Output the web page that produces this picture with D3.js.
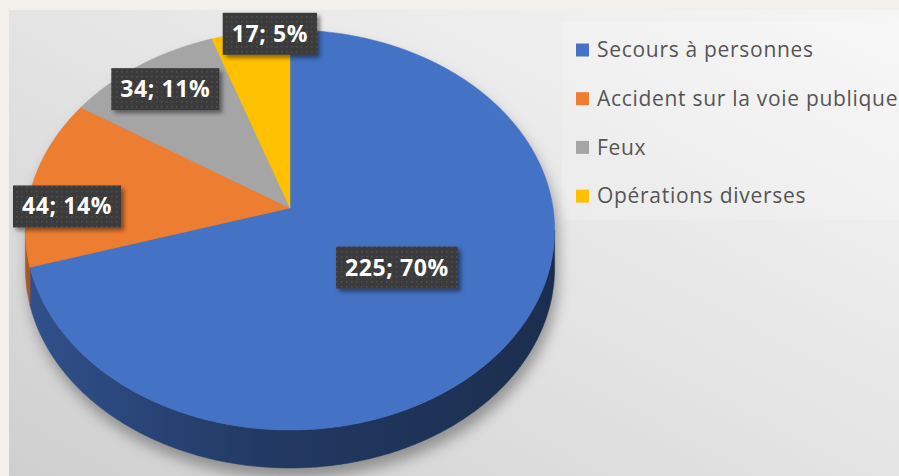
<!DOCTYPE html>
<html><head><meta charset="utf-8">
<script src="https://cdn.jsdelivr.net/npm/d3@7"></script>
<style>html,body{margin:0;padding:0;background:#f3f0eb;} svg{display:block;}</style>
</head><body>
<svg id="chart" width="899" height="476"></svg>
<script>
// ---- data ----
const categories = ["Secours à personnes", "Accident sur la voie publique", "Feux", "Opérations diverses"];
const values = [225, 44, 34, 17];
const colors = ["#4472c4", "#ed7d31", "#a5a5a5", "#ffc000"];

// ---- layout ----
const W = 899, H = 476;
const cx = 290, cy = 208, Rx = 263, Ry = 197.6, persp = 0.11, depth = 38;
// label anchor: [angle shift (deg), radius fraction]
const labelLayout = [[0, 0.49], [-7.4, 0.95], [0, 0.82], [4.6, 0.98]];

const svg = d3.select("#chart");
const defs = svg.append("defs");

// background gradient
const bg = defs.append("linearGradient").attr("id", "bg").attr("x1", 1).attr("y1", 0).attr("x2", 0).attr("y2", 1);
bg.append("stop").attr("offset", 0).attr("stop-color", "#f6f6f6");
bg.append("stop").attr("offset", 0.5).attr("stop-color", "#e4e4e4");
bg.append("stop").attr("offset", 1).attr("stop-color", "#cfcfcf");

// blur for shadow
const blur = defs.append("filter").attr("id", "blur").attr("x", "-20%").attr("y", "-20%").attr("width", "140%").attr("height", "140%");
blur.append("feGaussianBlur").attr("stdDeviation", 7);

const ds = defs.append("filter").attr("id", "ds").attr("x", "-20%").attr("y", "-30%").attr("width", "150%").attr("height", "170%");
ds.append("feDropShadow").attr("dx", 3).attr("dy", 3).attr("stdDeviation", 2).attr("flood-color", "#000").attr("flood-opacity", 0.45);

const pat = defs.append("pattern").attr("id", "dots").attr("patternUnits", "userSpaceOnUse").attr("width", 5).attr("height", 5);
pat.append("rect").attr("width", 5).attr("height", 5).attr("fill", "#3b3b3b");
pat.append("rect").attr("x", 1).attr("y", 1).attr("width", 1.5).attr("height", 1.5).attr("fill", "#505050");

svg.append("rect").attr("x", 9).attr("y", 10).attr("width", W - 9).attr("height", H - 10).attr("fill", "url(#bg)");

// legend backdrop
svg.append("rect").attr("x", 562).attr("y", 22).attr("width", W - 562).attr("height", 198)
  .attr("fill", "#ffffff").attr("opacity", 0.18);

function proj(theta, f) {
  const u = f * Math.sin(theta), v = -f * Math.cos(theta);
  const s = 1 / (1 - persp * v);
  return [cx + Rx * u * s, cy + Ry * v * s];
}
function arcPts(a0, a1, dy) {
  const n = Math.max(2, Math.ceil(Math.abs(a1 - a0) / (Math.PI / 360)));
  const pts = [];
  for (let i = 0; i <= n; i++) {
    const p = proj(a0 + (a1 - a0) * i / n, 1);
    pts.push([p[0], p[1] + dy]);
  }
  return pts;
}

const pie = d3.pie().sort(null).value(d => d).startAngle(0).endAngle(2 * Math.PI);
const arcs = pie(values);
const total = d3.sum(values);

// extreme angles (silhouette)
let thR = 0, thL = 0, maxX = -1e9, minX = 1e9;
for (let i = 0; i < 7200; i++) {
  const t = i / 7200 * 2 * Math.PI;
  const p = proj(t, 1);
  if (p[0] > maxX) { maxX = p[0]; thR = t; }
  if (p[0] < minX) { minX = p[0]; thL = t; }
}

// shadow
const outline = arcPts(thR, thL, depth).concat(arcPts(thL, thR + 2 * Math.PI, 0));
svg.append("path").attr("d", d3.line()(outline) + "Z")
  .attr("transform", "translate(3,10)")
  .attr("fill", "#6a6a6a").attr("opacity", 0.65).attr("filter", "url(#blur)");

// sides
const line = d3.line();
arcs.forEach((a, i) => {
  const s0 = Math.max(a.startAngle, thR), s1 = Math.min(a.endAngle, thL);
  if (s1 <= s0) return;
  const gid = "side" + i;
  const g = defs.append("linearGradient").attr("id", gid).attr("gradientUnits", "userSpaceOnUse")
    .attr("x1", minX).attr("y1", 0).attr("x2", maxX).attr("y2", 0);
  g.append("stop").attr("offset", 0).attr("stop-color", d3.color(colors[i]).darker(0.95));
  g.append("stop").attr("offset", 0.45).attr("stop-color", d3.color(colors[i]).darker(1.95));
  g.append("stop").attr("offset", 1).attr("stop-color", d3.color(colors[i]).darker(2.55));
  const pts = arcPts(s0, s1, 0).concat(arcPts(s1, s0, depth));
  svg.append("path").attr("d", line(pts) + "Z").attr("fill", "url(#" + gid + ")")
    .attr("stroke", "url(#" + gid + ")").attr("stroke-width", 0.5);
});

// top faces
arcs.forEach((a, i) => {
  const pts = [[cx, cy]].concat(arcPts(a.startAngle, a.endAngle, 0));
  svg.append("path").attr("d", line(pts) + "Z").attr("fill", colors[i])
    .attr("stroke", colors[i]).attr("stroke-width", 0.5);
});

// labels
arcs.forEach((a, i) => {
  const mid = (a.startAngle + a.endAngle) / 2 + labelLayout[i][0] * Math.PI / 180;
  let [x, y] = proj(mid, labelLayout[i][1]);
  const txt = values[i] + "; " + Math.round(values[i] / total * 100) + "%";
  const g = svg.append("g");
  const t = g.append("text").text(txt)
    .attr("font-family", "'Open Sans', sans-serif").attr("font-weight", 700)
    .attr("font-size", 23).attr("letter-spacing", 0.6).attr("fill", "#ffffff").attr("text-anchor", "middle");
  const tw = t.node().getComputedTextLength();
  const bw = tw + 18, bh = 42;
  x = Math.max(13 + bw / 2, x);
  g.insert("rect", "text").attr("x", x - bw / 2).attr("y", y - bh / 2).attr("width", bw).attr("height", bh)
    .attr("fill", "url(#dots)").attr("filter", "url(#ds)");
  t.attr("x", x).attr("y", y + 8);
});

// legend
const leg = svg.append("g");
categories.forEach((c, i) => {
  const y = 50 + i * 48.7;
  leg.append("rect").attr("x", 576).attr("y", y - 6.5).attr("width", 13).attr("height", 13).attr("fill", colors[i]);
  leg.append("text").attr("x", 597).attr("y", y).attr("dy", "0.35em").text(c)
    .attr("font-family", "'Open Sans', sans-serif").attr("font-size", 21).attr("letter-spacing", 0.7).attr("fill", "#555555");
});
</script>
</body></html>
